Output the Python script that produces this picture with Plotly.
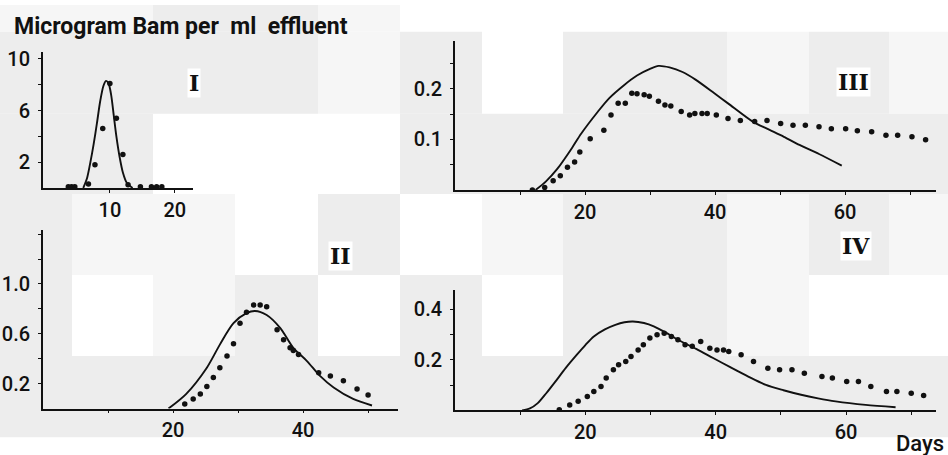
import plotly.graph_objects as go

W, H = 948, 455

# ---------------- data ----------------
# Panel I
p1_fit_x = [5.9, 6.5, 7.0, 7.5, 8.0, 8.5, 9.0, 9.4, 9.8, 10.2, 10.6, 11.0, 11.5, 12.0, 12.6, 13.5]
p1_fit_y = [0.0, 0.8, 2.0, 3.4, 5.0, 6.7, 7.9, 8.3, 8.1, 7.2, 5.6, 4.0, 2.4, 1.2, 0.4, 0.0]
p1_obs_x = [3.6, 4.1, 4.6, 6.7, 7.7, 8.9, 10.0, 11.0, 12.0, 12.8, 14.7, 16.4, 17.2, 18.0]
p1_obs_y = [0.1, 0.1, 0.1, 0.3, 1.8, 4.6, 8.1, 5.4, 2.6, 0.25, 0.1, 0.1, 0.1, 0.1]

# Panel II
p2_fit_x = [19.3, 22.0, 25.2, 27.2, 29.3, 31.3, 32.6, 34.4, 36.5, 38.5, 40.6, 42.6, 44.7, 47.7, 50.6]
p2_fit_y = [0.0, 0.116, 0.328, 0.513, 0.685, 0.765, 0.783, 0.751, 0.646, 0.487, 0.381, 0.262, 0.169, 0.077, 0.024]
p2_obs_x = [21.8, 23.1, 24.2, 25.2, 26.2, 27.2, 28.3, 29.3, 30.3, 31.3, 32.4, 33.4, 34.4,
            36.0, 37.0, 38.0, 38.5, 39.3, 42.4, 44.2, 46.2, 48.3, 50.0]
p2_obs_y = [0.037, 0.077, 0.116, 0.177, 0.249, 0.328, 0.421, 0.519, 0.685, 0.772, 0.831, 0.831, 0.817,
            0.632, 0.553, 0.487, 0.466, 0.434, 0.288, 0.262, 0.222, 0.156, 0.109]

# Panel III
p3_fit_x = [12.4, 14.0, 15.7, 18.0, 19.4, 22.0, 23.7, 26.0, 28.0, 30.0, 31.3, 33.0, 35.0, 37.0,
            39.9, 42.0, 45.8, 48.0, 50.6, 53.0, 56.0, 59.5]
p3_fit_y = [0.0, 0.017, 0.041, 0.083, 0.111, 0.155, 0.181, 0.207, 0.226, 0.239, 0.245, 0.242, 0.233, 0.218,
            0.191, 0.171, 0.135, 0.121, 0.105, 0.089, 0.071, 0.048]
p3_obs_x = [11.9, 13.8, 15.1, 16.2, 17.3, 18.4, 19.2, 20.8, 22.9, 24.0, 25.1, 26.2, 27.2, 28.0, 29.1,
            29.9, 31.3, 32.3, 33.2, 34.8, 36.1, 36.9, 38.0, 38.8, 40.2, 42.0, 43.9, 46.1, 48.0,
            50.1, 52.0, 53.9, 56.0, 57.9, 60.1, 61.9, 64.1, 66.3, 68.1, 70.3, 72.4]
p3_obs_y = [0.0, 0.005, 0.018, 0.028, 0.045, 0.055, 0.075, 0.101, 0.118, 0.148, 0.171, 0.171, 0.191, 0.190,
            0.188, 0.185, 0.175, 0.168, 0.166, 0.155, 0.148, 0.151, 0.151, 0.151, 0.148, 0.141, 0.137,
            0.135, 0.137, 0.131, 0.128, 0.128, 0.125, 0.121, 0.121, 0.117, 0.115, 0.108, 0.108, 0.105, 0.099]

# Panel IV
p4_fit_x = [10.3, 11.5, 12.7, 14.0, 15.4, 17.0, 18.7, 20.0, 21.3, 23.0, 24.6, 26.0, 27.3, 29.0,
            30.5, 32.3, 34.2, 37.0, 39.6, 42.3, 45.0, 47.7, 50.4, 53.1, 55.7, 58.4, 63.0, 67.6]
p4_fit_y = [0.0, 0.008, 0.029, 0.068, 0.114, 0.168, 0.220, 0.258, 0.292, 0.320, 0.338, 0.348, 0.351, 0.345,
            0.332, 0.308, 0.279, 0.243, 0.207, 0.170, 0.134, 0.101, 0.080, 0.062, 0.048, 0.036, 0.022, 0.013]
p4_obs_x = [16.0, 17.6, 18.9, 20.3, 21.3, 22.4, 23.2, 24.3, 25.1, 26.2, 27.0, 28.1, 28.9, 29.9, 31.0,
            32.1, 33.2, 34.2, 35.3, 36.4, 37.7, 39.1, 40.2, 41.2, 42.0, 43.9, 45.8, 48.0, 49.8, 51.7,
            53.6, 56.3, 57.9, 60.1, 61.9, 63.8, 66.2, 67.8, 70.0, 71.9]
p4_obs_y = [0.003, 0.022, 0.036, 0.055, 0.075, 0.095, 0.128, 0.161, 0.180, 0.193, 0.213, 0.239, 0.259, 0.286,
            0.299, 0.305, 0.292, 0.279, 0.259, 0.253, 0.272, 0.246, 0.239, 0.239, 0.233, 0.220, 0.193,
            0.167, 0.161, 0.161, 0.147, 0.134, 0.128, 0.114, 0.114, 0.095, 0.075, 0.075, 0.068, 0.059]

# axis ticks / labels
p1_xticks, p1_xlabels = [10, 20], ["10", "20"]
p1_yticks, p1_ylabels = [2, 4, 6, 8, 10], ["2", "", "6", "", "10"]
p2_xticks, p2_xlabels = [10, 20, 30, 40, 50], ["", "20", "", "40", ""]
p2_yticks, p2_ylabels = [0.2, 0.4, 0.6, 0.8, 1.0, 1.2, 1.4], ["0.2", "", "0.6", "", "1.0", "", ""]
p34_xticks, p34_xlabels = [10, 20, 30, 40, 50, 60, 70], ["", "20", "", "40", "", "60", ""]
p3_yticks, p3_ylabels = [0.05, 0.1, 0.15, 0.2, 0.25], ["", "0.1", "", "0.2", ""]
p4_yticks, p4_ylabels = [0.1, 0.2, 0.3, 0.4], ["", "0.2", "", "0.4"]

panel_names = ["I", "II", "III", "IV"]
title_text = "Microgram Bam per\u00a0 ml\u00a0 effluent"
x_title = "Days"

# ---------------- layout helpers ----------------
def px_x(v):
    return v / W


def px_y(v):
    return 1 - v / H


INK = "#111111"
TICK_FONT = dict(family="Roboto", size=20, color=INK, weight=500)

# panel boxes in pixels: (left, right, top, bottom)
boxes = {
    "1": (43, 193, 48, 185),
    "2": (43, 398, 227, 408),
    "3": (455, 936, 36, 187),
    "4": (455, 936, 288, 410),
}
ranges = {
    "1": ([-0.3, 22.8], [0, 10.5]),
    "2": ([0, 54.6], [0, 1.437]),
    "3": ([0, 74], [0, 0.295]),
    "4": ([0, 73.8], [0, 0.476]),
}
ticks = {
    "1": (p1_xticks, p1_xlabels, p1_yticks, p1_ylabels),
    "2": (p2_xticks, p2_xlabels, p2_yticks, p2_ylabels),
    "3": (p34_xticks, p34_xlabels, p3_yticks, p3_ylabels),
    "4": (p34_xticks, p34_xlabels, p4_yticks, p4_ylabels),
}
series = {
    "1": (p1_fit_x, p1_fit_y, p1_obs_x, p1_obs_y),
    "2": (p2_fit_x, p2_fit_y, p2_obs_x, p2_obs_y),
    "3": (p3_fit_x, p3_fit_y, p3_obs_x, p3_obs_y),
    "4": (p4_fit_x, p4_fit_y, p4_obs_x, p4_obs_y),
}

fig = go.Figure()
layout = dict(
    width=W, height=H, autosize=False,
    margin=dict(l=0, r=0, t=0, b=0, pad=0),
    paper_bgcolor="white", plot_bgcolor="rgba(0,0,0,0)",
    showlegend=False,
)

for k in ["1", "2", "3", "4"]:
    sfx = "" if k == "1" else k
    l, r, t, b = boxes[k]
    xr, yr = ranges[k]
    xt, xl, yt, yl = ticks[k]
    common = dict(showline=True, linecolor=INK, linewidth=1.8, showgrid=False, zeroline=False,
                  ticks="outside", ticklen=3, tickwidth=1.3, tickcolor=INK,
                  tickfont=TICK_FONT, fixedrange=True)
    layout["xaxis" + sfx] = dict(domain=[px_x(l), px_x(r)], range=xr, anchor="y" + sfx,
                                 tickmode="array", tickvals=xt, ticktext=xl, **common)
    layout["yaxis" + sfx] = dict(domain=[px_y(b), px_y(t)], range=yr, anchor="x" + sfx,
                                 tickmode="array", tickvals=yt, ticktext=yl,
                                 ticklabelstandoff=4, **common)
    fx, fy, ox, oy = series[k]
    fig.add_trace(go.Scatter(x=fx, y=fy, mode="lines",
                             line=dict(color=INK, width=1.9, shape="spline", smoothing=0.8),
                             xaxis="x" + sfx, yaxis="y" + sfx, hoverinfo="skip"))
    fig.add_trace(go.Scatter(x=ox, y=oy, mode="markers", marker=dict(color=INK, size=5.5),
                             xaxis="x" + sfx, yaxis="y" + sfx, hoverinfo="skip"))

# soft paper tint tiles
tile_cols = [0, 72, 153, 235, 318, 400, 482, 563, 645, 727, 809, 889, 948]
tile_rows = [0, 27, 110, 191, 273, 355, 437, 455]
tones = {"G": "#ededed", "L": "#f6f6f6", "W": "#ffffff"}
tile_map = [
    "LLGGLWWWWWWW",
    "GGGGLGWGGLGL",
    "GGWWWGGGGGGG",
    "GLLWGWLGGLGL",
    "GWLGWGWGGLWW",
    "GGGGGGGGGGGG",
    "WWWWWWWWWWWW",
]
shapes = []
for ri, row in enumerate(tile_map):
    for ci, code in enumerate(row):
        if code == "W":
            continue
        shapes.append(dict(type="rect", xref="paper", yref="paper", layer="below",
                           x0=px_x(tile_cols[ci]), x1=px_x(tile_cols[ci + 1]),
                           y0=px_y(tile_rows[ri + 1]), y1=px_y(tile_rows[ri]),
                           line=dict(width=0), fillcolor=tones[code]))
layout["shapes"] = shapes

ann = [
    dict(text=title_text, x=px_x(12), y=px_y(22), xanchor="left", yanchor="middle",
         font=dict(family="Roboto", size=23, color=INK, weight="bold")),
    dict(text=x_title, x=px_x(946), y=px_y(443), xanchor="right", yanchor="middle",
         font=dict(family="Roboto", size=22, color=INK, weight=500)),
]
numeral_pos = [(194, 79), (340, 254), (853, 78), (856, 244)]
for name, (cx, cy) in zip(panel_names, numeral_pos):
    ann.append(dict(text=name, x=px_x(cx), y=px_y(cy), xanchor="center", yanchor="middle",
                    font=dict(family="DejaVu Serif", size=22, color=INK, weight="bold"),
                    bgcolor="white", borderpad=1))
for a in ann:
    a.update(xref="paper", yref="paper", showarrow=False)
layout["annotations"] = ann

fig.update_layout(**layout)
fig.write_html("out.html", config={"displayModeBar": False})
